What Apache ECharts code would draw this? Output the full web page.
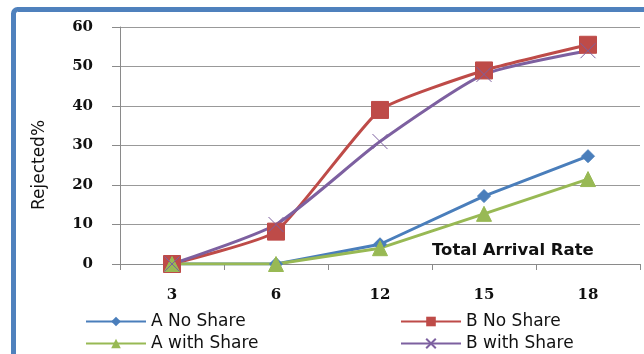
<!DOCTYPE html>
<html>
<head>
<meta charset="utf-8">
<script src="https://cdn.jsdelivr.net/npm/echarts@6/dist/echarts.min.js"></script>
<style>
  html, body { margin: 0; padding: 0; background: #fff; }
  #chart { width: 644px; height: 354px; }
</style>
</head>
<body>
<div id="chart"></div>
<script>
// Total arrival rate categories and rejected percentage per scheme
const categories = ['3', '6', '12', '15', '18'];
const aNoShare   = [0, 0, 5, 17.2, 27.3];
const bNoShare   = [0, 8.2, 39, 49, 55.5];
const aWithShare = [0, 0, 4, 12.7, 21.5];
const bWithShare = [0, 10, 31, 48, 54];
const yTicks = { min: 0, max: 60, interval: 10 };

const crossPath = 'path://M0,0 L10,10 M10,0 L0,10';
const chart = echarts.init(document.getElementById('chart'));

function lineSeries(name, data, color, symbol, size, smooth) {
  return {
    name, type: 'line', data, smooth,
    symbol, symbolSize: size,
    lineStyle: { color, width: 3 },
    itemStyle: symbol === crossPath
      ? { color: 'none', borderColor: color, borderWidth: 1 }
      : { color, borderColor: color },
    emphasis: { disabled: true }
  };
}

const legendText = { fontFamily: 'DejaVu Sans', fontSize: 17, color: '#111' };
function legendAt(name, left, top) {
  return {
    data: [name], left, top, itemWidth: 60, itemHeight: 12, itemGap: 4,
    textStyle: legendText, padding: 0
  };
}

const tickFont = { fontFamily: 'DejaVu Serif', fontWeight: 'bold', fontSize: 15, color: '#111' };

chart.setOption({
  backgroundColor: '#fff',
  animation: false,
  grid: { left: 120, right: 4, top: 27, bottom: 90 },
  legend: [
    legendAt('A No Share', 85, 313),
    legendAt('B No Share', 400, 313),
    legendAt('A with Share', 85, 335),
    legendAt('B with Share', 400, 335)
  ],
  xAxis: {
    type: 'category', data: categories, boundaryGap: true,
    axisLine: { lineStyle: { color: '#8a8a8a', width: 1 } },
    axisTick: { show: true, length: 6, alignWithLabel: false, lineStyle: { color: '#8a8a8a' } },
    axisLabel: Object.assign({ margin: 24 }, tickFont)
  },
  yAxis: {
    type: 'value', min: yTicks.min, max: yTicks.max, interval: yTicks.interval,
    axisLine: { show: true, lineStyle: { color: '#8a8a8a', width: 1 } },
    axisTick: { show: true, length: 8, lineStyle: { color: '#8a8a8a' } },
    splitLine: { lineStyle: { color: '#999', width: 1 } },
    axisLabel: Object.assign({ margin: 27 }, tickFont)
  },
  graphic: [
    {
      type: 'rect', silent: true, z: 100,
      shape: { x: 13.5, y: 9.5, width: 660, height: 370, r: 4 },
      style: { fill: 'none', stroke: '#4F81BD', lineWidth: 5 }
    },
    {
      // vertical axis title
      type: 'text', x: 40, y: 165, rotation: Math.PI / 2, z: 50,
      style: {
        text: 'Rejected%', fontFamily: 'DejaVu Sans', fontSize: 17, fill: '#111',
        align: 'center', verticalAlign: 'middle'
      }
    },
    {
      type: 'text', left: 432, top: 242, z: 50,
      style: { text: 'Total Arrival Rate', fontFamily: 'DejaVu Sans', fontWeight: 'bold', fontSize: 16.5, fill: '#111' }
    }
  ],
  series: [
    lineSeries('A No Share', aNoShare, '#4A7EBB', 'diamond', 13, false),
    lineSeries('B No Share', bNoShare, '#BE4B48', 'rect', 17, 0.15),
    lineSeries('A with Share', aWithShare, '#98B954', 'triangle', 15, false),
    lineSeries('B with Share', bWithShare, '#7D60A0', crossPath, 15, 0.2)
  ]
});
</script>
</body>
</html>
